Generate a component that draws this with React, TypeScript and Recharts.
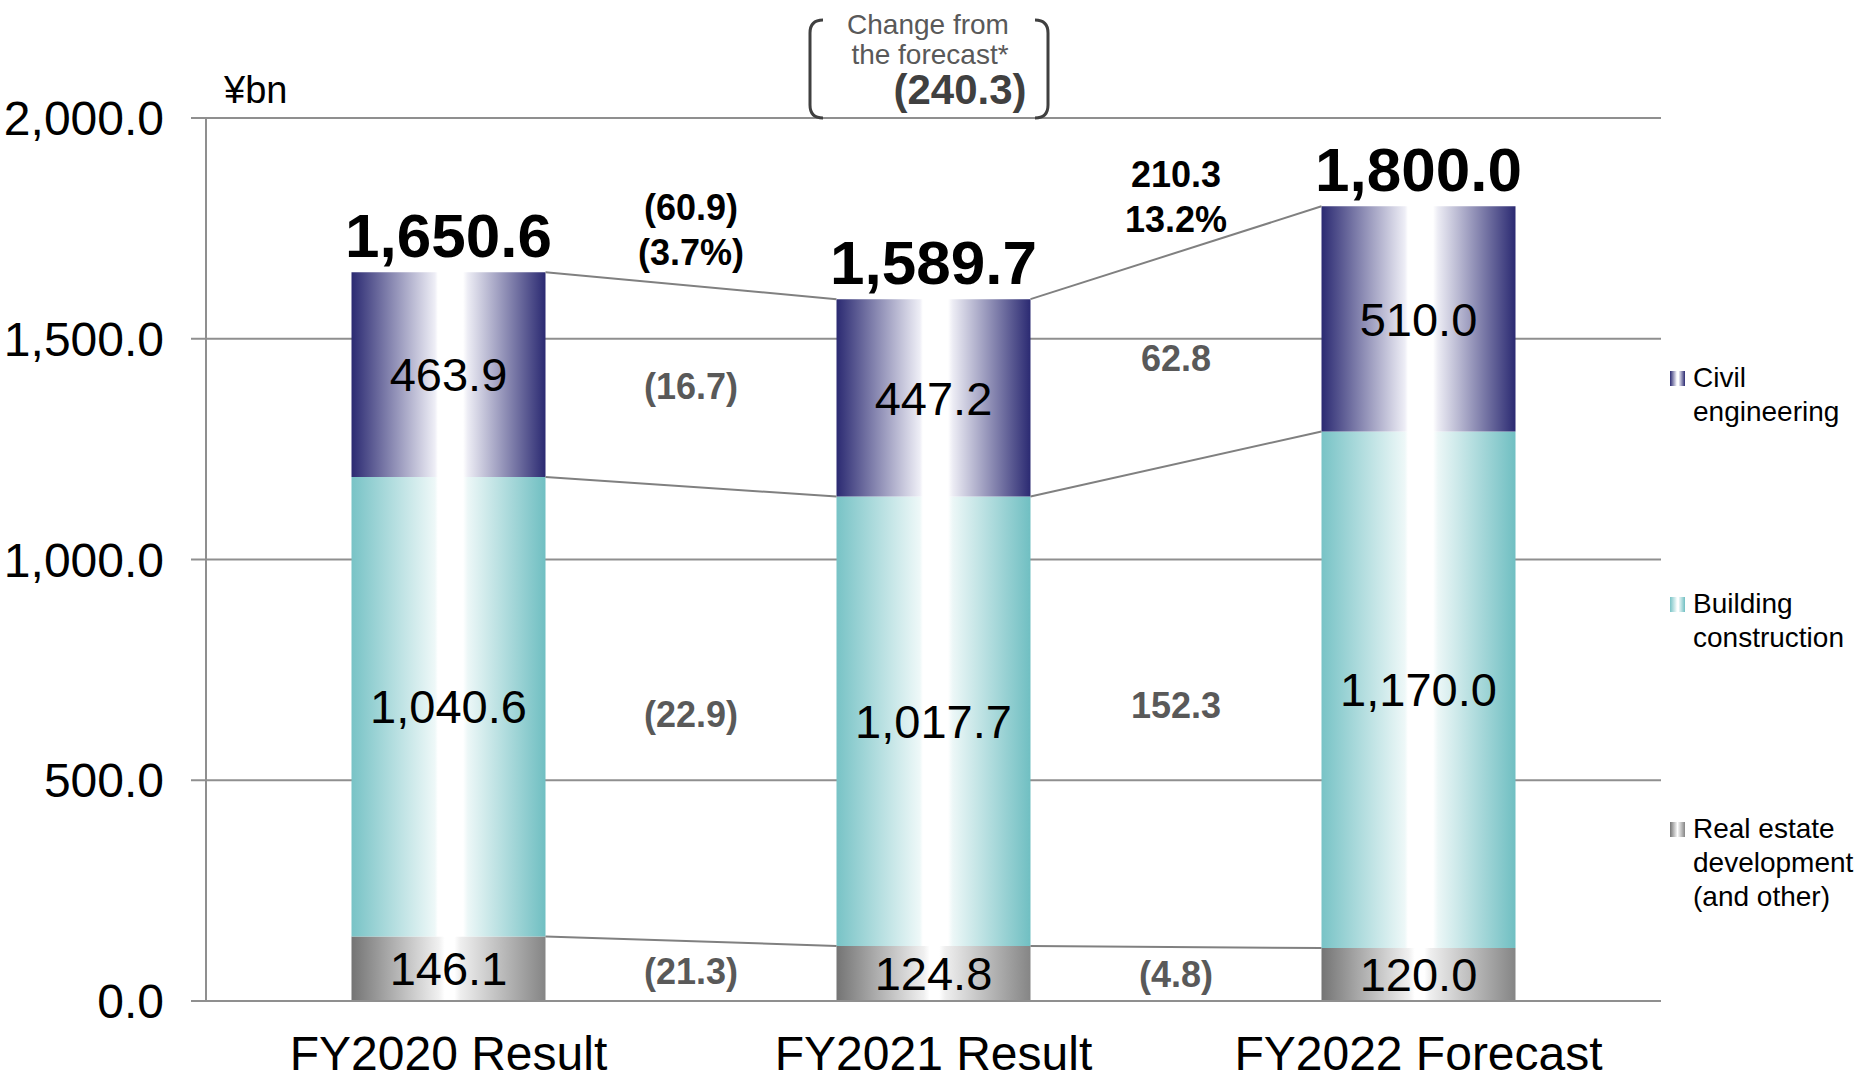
import React from 'react';
import {
  BarChart,
  Bar,
  XAxis,
  YAxis,
  CartesianGrid,
  LabelList,
  ReferenceLine,
  ReferenceDot,
} from 'recharts';

const FONT = '"Liberation Sans", Arial, Helvetica, sans-serif';

// ---- data ----
const categories = ['FY2020 Result', 'FY2021 Result', 'FY2022 Forecast'];
const realEstate = [146.1, 124.8, 120.0];
const building = [1040.6, 1017.7, 1170.0];
const civil = [463.9, 447.2, 510.0];
const totals = [1650.6, 1589.7, 1800.0];
const totalChange = ['(60.9)', '210.3'];
const totalChangePct = ['(3.7%)', '13.2%'];
const civilChange = ['(16.7)', '62.8'];
const buildingChange = ['(22.9)', '152.3'];
const realEstateChange = ['(21.3)', '(4.8)'];
const forecastChange = '(240.3)';
const yTicks = [0, 500, 1000, 1500, 2000];
const legendCivil = ['Civil', 'engineering'];
const legendBuilding = ['Building', 'construction'];
const legendRealEstate = ['Real estate', 'development', '(and other)'];

const data = categories.map((name, i) => ({
  name,
  slot: i + 0.5, // centre of the category band on the helper numeric axis
  realEstate: realEstate[i],
  building: building[i],
  civil: civil[i],
  total: totals[i],
}));

const fmt = (v: any) =>
  Number(v).toLocaleString('en-US', { minimumFractionDigits: 1, maximumFractionDigits: 1 });

const AX = '#8f8f8f';
const LINE = '#808080';
const GRAY_TXT = '#595959';
const BAR_GAP = 0.3; // barCategoryGap fraction
const HALF = 0.5 - BAR_GAP; // half bar width in category units

const levels = data.map((d) => [d.realEstate, d.realEstate + d.building, d.realEstate + d.building + d.civil]);
const mids = data.map((d) => [d.realEstate / 2, d.realEstate + d.building / 2, d.realEstate + d.building + d.civil / 2]);

function AnnoText(props: any) {
  const { viewBox, lines, fill, dyStart = 0, lineGap = 45, fontSize = 36 } = props;
  if (!viewBox) return null;
  const cx = viewBox.x + (viewBox.width || 0) / 2;
  const cy = viewBox.y + (viewBox.height || 0) / 2;
  return (
    <g>
      {lines.map((t: string, k: number) => (
        <text
          key={k}
          x={cx}
          y={cy + dyStart + k * lineGap}
          dy="0.36em"
          textAnchor="middle"
          fill={fill}
          fontSize={fontSize}
          fontWeight={700}
          fontFamily={FONT}
        >
          {t}
        </text>
      ))}
    </g>
  );
}

const Gradients = () => (
  <defs>
    <linearGradient id="gCivil" x1="0" y1="0" x2="1" y2="0">
      <stop offset="0" stopColor="#2b2a72" />
      <stop offset="0.43" stopColor="#eeeef6" />
      <stop offset="0.445" stopColor="#ffffff" />
      <stop offset="0.575" stopColor="#ffffff" />
      <stop offset="0.6" stopColor="#ececf4" />
      <stop offset="1" stopColor="#2b2a72" />
    </linearGradient>
    <linearGradient id="gBuilding" x1="0" y1="0" x2="1" y2="0">
      <stop offset="0" stopColor="#78c3c6" />
      <stop offset="0.43" stopColor="#eef8f8" />
      <stop offset="0.445" stopColor="#ffffff" />
      <stop offset="0.575" stopColor="#ffffff" />
      <stop offset="0.6" stopColor="#ecf7f7" />
      <stop offset="1" stopColor="#70bfc2" />
    </linearGradient>
    <linearGradient id="gReal" x1="0" y1="0" x2="1" y2="0">
      <stop offset="0" stopColor="#747474" />
      <stop offset="0.45" stopColor="#f0f0f0" />
      <stop offset="0.48" stopColor="#ffffff" />
      <stop offset="0.53" stopColor="#ffffff" />
      <stop offset="0.56" stopColor="#efefef" />
      <stop offset="1" stopColor="#858585" />
    </linearGradient>
  </defs>
);

const legendItems = [
  { lines: legendCivil, grad: 'gCivil', y: 387 },
  { lines: legendBuilding, grad: 'gBuilding', y: 613 },
  { lines: legendRealEstate, grad: 'gReal', y: 838 },
];

export default function App() {
  return (
    <div style={{ position: 'absolute', left: 0, top: 0, width: 1864, height: 1076, background: '#fff', overflow: 'hidden' }}>
      <BarChart
        width={1864}
        height={1076}
        data={data}
        margin={{ top: 118, right: 203, bottom: 73, left: 0 }}
        barCategoryGap={`${BAR_GAP * 100}%`}
      >
        <Gradients />
        <CartesianGrid vertical={false} stroke={AX} strokeWidth={2} />
        <XAxis
          dataKey="name"
          height={1}
          interval={0}
          axisLine={{ stroke: AX, strokeWidth: 2 }}
          tickLine={false}
          tickSize={15}
          tickMargin={20}
          tick={{ fill: '#000', fontSize: 48, fontFamily: FONT }}
        />
        <XAxis
          xAxisId="num"
          dataKey="slot"
          type="number"
          domain={[0, 3]}
          ticks={[0, 1, 2, 3]}
          interval={0}
          allowDataOverflow
          height={1}
          axisLine={false}
          tickLine={{ stroke: AX, strokeWidth: 2 }}
          tickSize={15}
          tick={false}
        />
        <YAxis
          width={206}
          domain={[0, 2000]}
          ticks={yTicks}
          interval={0}
          tickFormatter={fmt}
          axisLine={{ stroke: AX, strokeWidth: 2 }}
          tickLine={{ stroke: AX, strokeWidth: 2 }}
          tickSize={15}
          tickMargin={27}
          tick={{ fill: '#000', fontSize: 48, fontFamily: FONT }}
        />
        <Bar dataKey="realEstate" stackId="a" fill="url(#gReal)" isAnimationActive={false}>
          <LabelList dataKey="realEstate" position="center" formatter={fmt} fill="#000" fontSize={47} fontFamily={FONT} />
        </Bar>
        <Bar dataKey="building" stackId="a" fill="url(#gBuilding)" isAnimationActive={false}>
          <LabelList dataKey="building" position="center" formatter={fmt} fill="#000" fontSize={47} fontFamily={FONT} />
        </Bar>
        <Bar dataKey="civil" stackId="a" fill="url(#gCivil)" isAnimationActive={false}>
          <LabelList dataKey="civil" position="center" formatter={fmt} fill="#000" fontSize={47} fontFamily={FONT} />
          <LabelList
            dataKey="total"
            position="top"
            offset={15}
            formatter={fmt}
            fill="#000"
            fontSize={62}
            fontWeight={700}
            fontFamily={FONT}
          />
        </Bar>

        {[0, 1].map((i) =>
          [0, 1, 2].map((k) => (
            <ReferenceLine
              key={`seg-${i}-${k}`}
              xAxisId="num"
              ifOverflow="visible"
              stroke={LINE}
              strokeWidth={2}
              segment={[
                { x: i + 0.5 + HALF, y: levels[i][k] },
                { x: i + 1.5 - HALF, y: levels[i + 1][k] },
              ]}
            />
          ))
        )}

        {[0, 1].map((i) => (
          <ReferenceDot
            key={`re-${i}`}
            xAxisId="num"
            x={i + 1}
            y={(mids[i][0] + mids[i + 1][0]) / 2}
            r={0}
            fill="none"
            stroke="none"
            ifOverflow="visible"
            label={<AnnoText lines={[realEstateChange[i]]} fill={GRAY_TXT} />}
          />
        ))}
        {[0, 1].map((i) => (
          <ReferenceDot
            key={`bd-${i}`}
            xAxisId="num"
            x={i + 1}
            y={(mids[i][1] + mids[i + 1][1]) / 2}
            r={0}
            fill="none"
            stroke="none"
            ifOverflow="visible"
            label={<AnnoText lines={[buildingChange[i]]} fill={GRAY_TXT} />}
          />
        ))}
        {[0, 1].map((i) => (
          <ReferenceDot
            key={`cv-${i}`}
            xAxisId="num"
            x={i + 1}
            y={(mids[i][2] + mids[i + 1][2]) / 2}
            r={0}
            fill="none"
            stroke="none"
            ifOverflow="visible"
            label={<AnnoText lines={[civilChange[i]]} fill={GRAY_TXT} />}
          />
        ))}
        {[0, 1].map((i) => (
          <ReferenceDot
            key={`tot-${i}`}
            xAxisId="num"
            x={i + 1}
            y={(totals[i] + totals[i + 1]) / 2}
            r={0}
            fill="none"
            stroke="none"
            ifOverflow="visible"
            label={<AnnoText lines={[totalChange[i], totalChangePct[i]]} fill="#000" dyStart={-79} lineGap={45} />}
          />
        ))}
      </BarChart>

      <svg
        width={1864}
        height={1076}
        style={{ position: 'absolute', left: 0, top: 0, pointerEvents: 'none' }}
      >
        <text x={224} y={103} fontSize={38} fontFamily={FONT} fill="#000">
          ¥bn
        </text>
        <path d="M823,20 Q810,20 810,33 L810,105 Q810,118 823,118" stroke="#404040" strokeWidth={3} fill="none" />
        <path d="M1035,20 Q1048,20 1048,33 L1048,105 Q1048,118 1035,118" stroke="#404040" strokeWidth={3} fill="none" />
        <text x={928} y={34} textAnchor="middle" fontSize={28} fontFamily={FONT} fill={GRAY_TXT}>
          Change from
        </text>
        <text x={930} y={64} textAnchor="middle" fontSize={28} fontFamily={FONT} fill={GRAY_TXT}>
          the forecast*
        </text>
        <text x={960} y={104} textAnchor="middle" fontSize={42} fontWeight={700} fontFamily={FONT} fill="#404040">
          {forecastChange}
        </text>
        {legendItems.map((it, idx) => (
          <g key={idx}>
            <rect x={1670} y={it.y - 16} width={15} height={15} fill={`url(#${it.grad})`} />
            {it.lines.map((t, k) => (
              <text key={k} x={1693} y={it.y + k * 34} fontSize={28} fontFamily={FONT} fill="#000">
                {t}
              </text>
            ))}
          </g>
        ))}
      </svg>
    </div>
  );
}
